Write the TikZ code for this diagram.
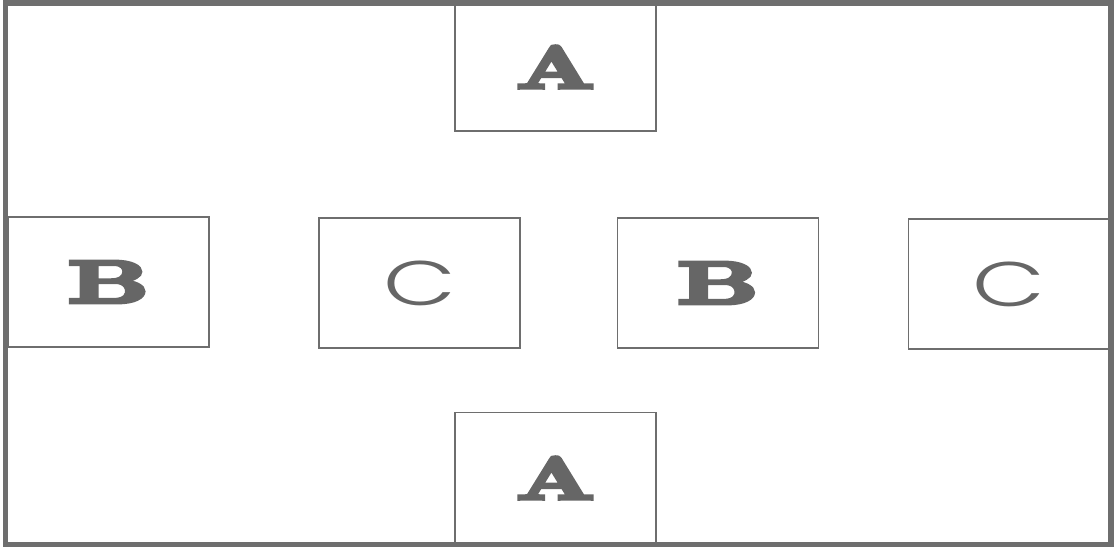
\documentclass[tikz,border=0pt]{standalone}
\usepackage{fontspec}
\newfontfamily\fatfont{lmroman10-bold.otf}[FakeBold=6]
\newfontfamily\roundfont{Poppins Light}

\definecolor{inkgray}{HTML}{666666}
\definecolor{framegray}{HTML}{6E6E6E}

% wide letters for the panels
\newcommand{\fatletter}[2]{{\fatfont\fontsize{60}{60}\selectfont\scalebox{#1}[1]{#2}}}
\newcommand{\roundletter}[1]{{\roundfont\fontsize{63}{63}\selectfont\scalebox{1.5}[1]{#1}}}

\begin{document}
\begin{tikzpicture}[
  x=1pt, y=-1pt,
  panel/.style={
    draw=framegray,
    line width=1.4pt,
    minimum width=201pt,
    minimum height=130pt,
    inner sep=0pt,
    text=inkgray
  },
  frame/.style={draw=framegray, line width=5.5pt}
]
  \useasboundingbox (0,0) rectangle (1116,548);

  \node[panel, minimum height=128pt] (atop) at (555.5,67) {\fatletter{1.5}{A}};

  \node[panel] (bleft)  at (108.5,282) {\fatletter{1.65}{B}};
  \node[panel] (cleft)  at (419.5,283) {\roundletter{C}};
  \node[panel] (bright) at (718,283)   {\fatletter{1.65}{B}};
  \node[panel] (cright) at (1009,284)  {\roundletter{C}};

  \node[panel, minimum height=131pt] (abot) at (555.5,478) {\fatletter{1.5}{A}};

  \draw[frame] (5.5,3) rectangle (1111,544.5);
\end{tikzpicture}
\end{document}
